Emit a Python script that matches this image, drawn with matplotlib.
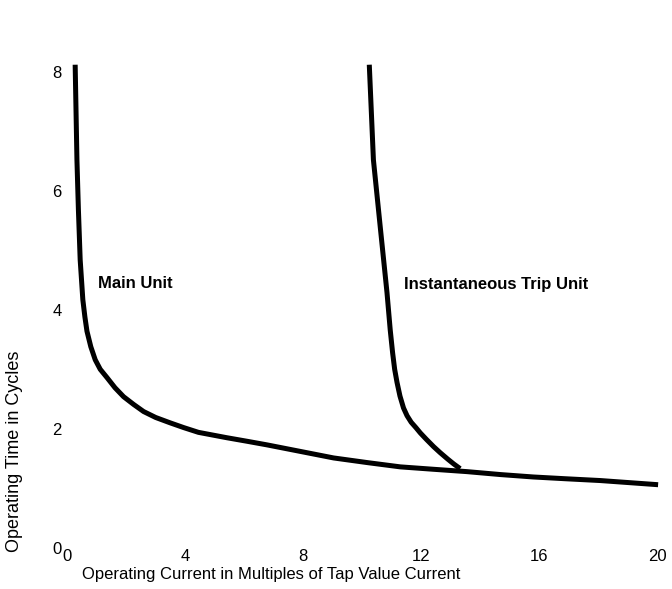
import matplotlib
matplotlib.use("Agg")
import matplotlib.pyplot as plt

plt.rcParams["font.family"] = ["Liberation Sans", "DejaVu Sans"]

# ── Curve data (multiples of tap current, cycles) ──
main_x = [0.27, 0.33, 0.38, 0.44, 0.53, 0.60, 0.67, 0.80, 0.95, 1.12, 1.35, 1.62, 1.91, 2.25, 2.59, 3.0,
          3.49, 3.95, 4.45, 5.41, 6.1, 6.77, 7.9, 9.03, 10.2, 11.29, 12.4, 13.55, 14.7, 15.8, 16.9, 18.07, 20.03]
main_y = [8.12, 6.52, 5.68, 4.84, 4.17, 3.88, 3.64, 3.38, 3.16, 3.00, 2.86, 2.69, 2.54, 2.41, 2.29, 2.19,
          2.10, 2.02, 1.94, 1.85, 1.79, 1.73, 1.62, 1.51, 1.43, 1.36, 1.32, 1.28, 1.23, 1.19, 1.16, 1.13, 1.06]

inst_x = [10.24, 10.38, 10.61, 10.84, 10.95, 11.03, 11.10, 11.18, 11.28, 11.40, 11.52, 11.66, 11.82,
          11.97, 12.18, 12.42, 12.64, 12.90, 13.10, 13.32]
inst_y = [8.12, 6.52, 5.40, 4.29, 3.66, 3.28, 3.00, 2.78, 2.55, 2.35, 2.22, 2.11, 2.02,
          1.93, 1.82, 1.70, 1.60, 1.49, 1.41, 1.33]

x_ticks = [0, 4, 8, 12, 16, 20]
y_ticks = [0, 2, 4, 6, 8]

fig = plt.figure(figsize=(6.72, 5.89), dpi=100)
ax = fig.add_axes([0.100, 0.070, 0.878, 0.808])

ax.plot(main_x, main_y, color="black", lw=3.6, solid_capstyle="butt",
        solid_joinstyle="round", clip_on=False)
ax.plot(inst_x, inst_y, color="black", lw=3.6, solid_capstyle="butt",
        solid_joinstyle="round", clip_on=False)

ax.text(1.05, 4.45, "Main Unit", fontsize=12, fontweight="bold", va="center", ha="left")
ax.text(11.4, 4.42, "Instantaneous Trip Unit", fontsize=12, fontweight="bold",
        va="center", ha="left")

ax.set_xlim(0, 20)
ax.set_ylim(0, 8)
ax.set_xticks(x_ticks)
ax.set_yticks(y_ticks)
ax.set_xticklabels([str(t) for t in x_ticks], fontsize=12)
ax.set_yticklabels([str(t) for t in y_ticks], fontsize=12)
ax.tick_params(axis="x", length=0, pad=1)
ax.tick_params(axis="y", length=0, pad=4)
for s in ax.spines.values():
    s.set_visible(False)

fig.text(0.403, 0.024, "Operating Current in Multiples of Tap Value Current",
         fontsize=12, ha="center", va="center")
fig.text(0.022, 0.234, "Operating Time in Cycles", fontsize=13,
         rotation=90, ha="center", va="center")

fig.savefig("out.png", dpi=100)
